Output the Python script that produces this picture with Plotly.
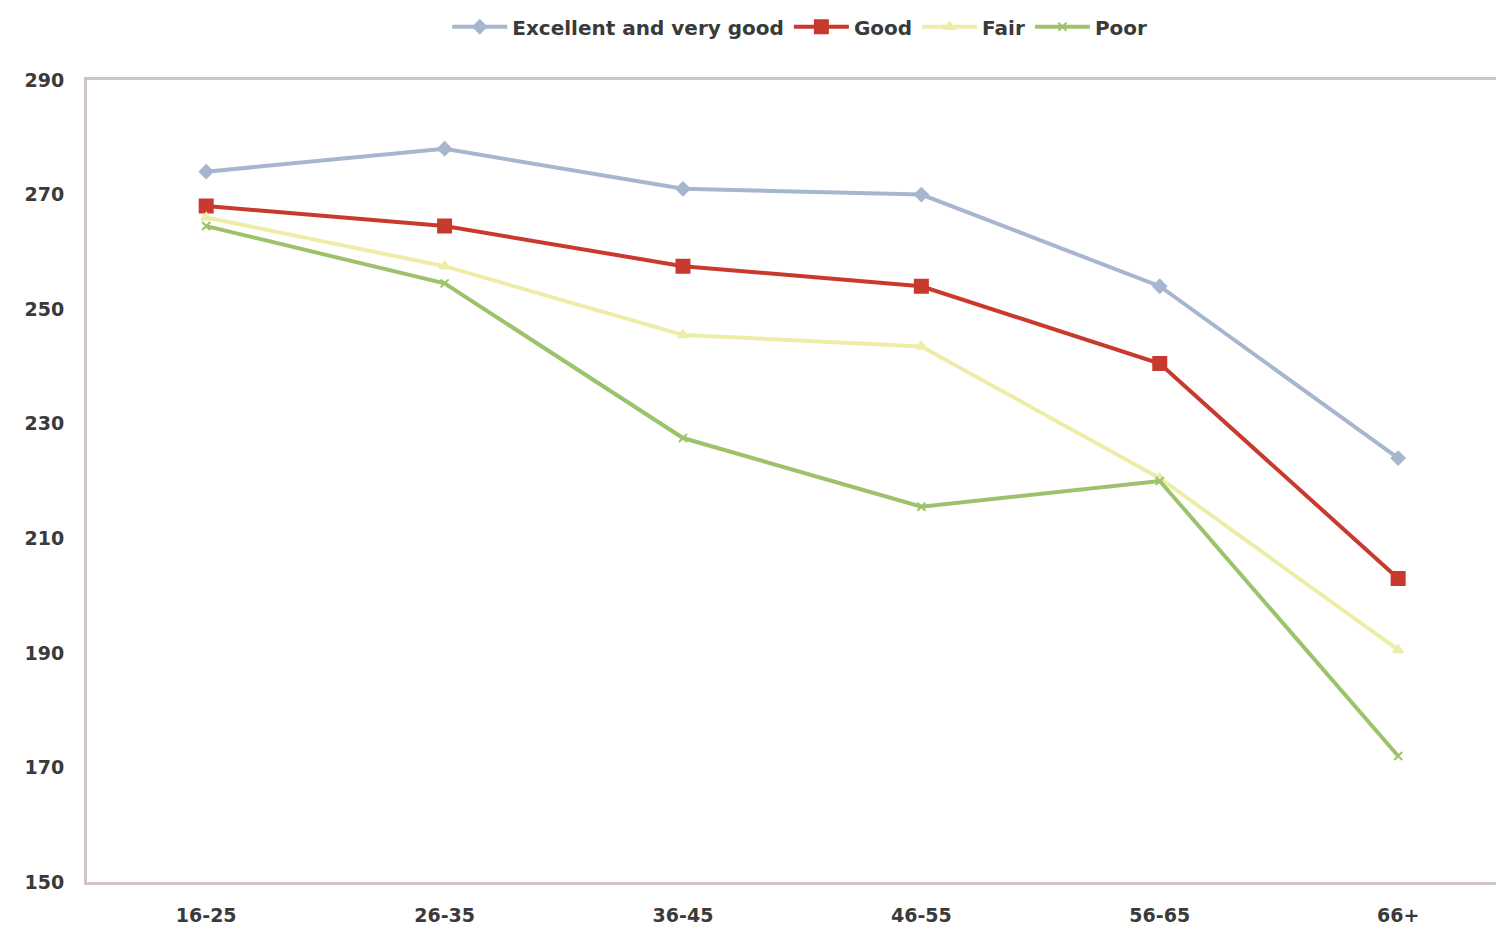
import plotly.graph_objects as go

age_groups = ["16-25", "26-35", "36-45", "46-55", "56-65", "66+"]
excellent = [274, 278, 271, 270, 254, 224]
good = [268, 264.5, 257.5, 254, 240.5, 203]
fair = [266, 257.5, 245.5, 243.5, 220.5, 190.5]
poor = [264.5, 254.5, 227.5, 215.5, 220, 172]
y_ticks = [150, 170, 190, 210, 230, 250, 270, 290]

series = [
    ("Excellent and very good", excellent, "#a7b6cf", "diamond", 10),
    ("Good", good, "#c8392e", "square", 13),
    ("Fair", fair, "#eeeda8", "triangle-up", 9),
    ("Poor", poor, "#9dc26c", "x-thin", 8),
]

fig = go.Figure()
for name, vals, color, sym, size in series:
    fig.add_trace(go.Scatter(
        x=age_groups, y=vals, name=name, mode="lines+markers",
        line=dict(color=color, width=4),
        marker=dict(symbol=sym, size=size, color=color,
                    line=dict(color=color, width=2)),
    ))

tick_font = dict(size=19, color="#3a3a3a", family="DejaVu Sans", weight="bold")

fig.update_layout(
    width=1504, height=936,
    paper_bgcolor="white", plot_bgcolor="white",
    margin=dict(l=79, r=8, t=72, b=62, autoexpand=False),
    font=dict(family="DejaVu Sans", size=19, color="#3a3a3a"),
    showlegend=True,
    legend=dict(orientation="h", x=0.503, xanchor="center", y=0.980, yanchor="middle",
                yref="container", itemwidth=55,
                font=dict(size=20, color="#3a3a3a", family="DejaVu Sans", weight="bold"),
                bgcolor="rgba(0,0,0,0)"),
    xaxis=dict(
        type="category", range=[-0.5, 5.444], automargin=False,
        showgrid=False, showline=True, linecolor="#cfc6c2", linewidth=3,
        mirror=True, ticks="", ticklabelstandoff=14, tickfont=tick_font,
        zeroline=False,
    ),
    yaxis=dict(
        range=[150, 290], tickvals=y_ticks, showgrid=False, automargin=False,
        showline=True, linecolor="#cfc6c2", linewidth=3, mirror=True,
        ticks="", ticklabelstandoff=16, tickfont=tick_font,
        zeroline=False,
    ),
)

fig.write_html("out.html")
